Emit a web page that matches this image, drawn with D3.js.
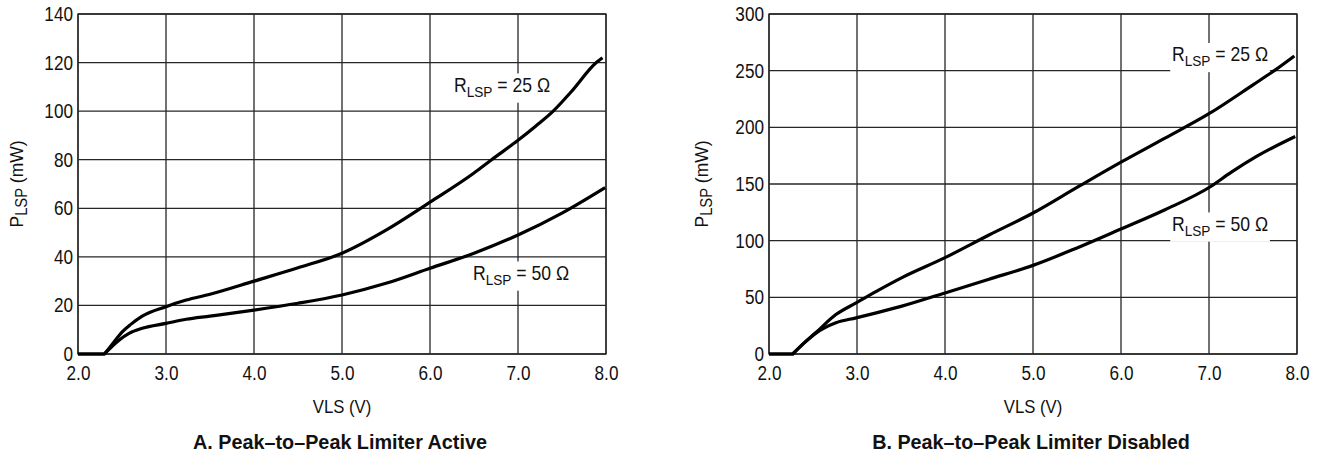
<!DOCTYPE html>
<html>
<head>
<meta charset="utf-8">
<script src="https://cdn.jsdelivr.net/npm/d3@7"></script>
<style>
  html, body { margin: 0; padding: 0; background: #fff; }
  svg { display: block; }
  .tick-label { font-family: "Liberation Sans", Arial, sans-serif; font-size: 19.5px; fill: #111; }
  .axis-title { font-family: "Liberation Sans", Arial, sans-serif; font-size: 19px; fill: #111; }
  .panel-title { font-family: "Liberation Sans", Arial, sans-serif; font-size: 19.8px; font-weight: bold; fill: #111; }
</style>
</head>
<body>
<svg id="chart" width="1322" height="454"></svg>
<script>
// ---------- data ----------
const xTicks = [2.0, 3.0, 4.0, 5.0, 6.0, 7.0, 8.0];
const xTickLabels = ["2.0", "3.0", "4.0", "5.0", "6.0", "7.0", "8.0"];

const leftYTicks = [0, 20, 40, 60, 80, 100, 120, 140];
const rightYTicks = [0, 50, 100, 150, 200, 250, 300];

// Panel A: Peak-to-Peak Limiter Active
const leftR25V = [2.0, 2.3, 2.4, 2.5, 2.6, 2.73, 3.0, 3.23, 3.5, 4.0, 4.5, 5.0, 5.5, 6.0, 6.5, 6.7, 7.0, 7.2, 7.4, 7.6, 7.89, 7.96];
const leftR25P = [0, 0, 4.5, 9.0, 12.2, 15.6, 19.5, 22.2, 24.6, 30.0, 35.5, 41.5, 51, 62.5, 74.5, 80, 88, 93.8, 100, 107.8, 120, 122];
const leftR50V = [2.0, 2.3, 2.47, 2.58, 2.73, 3.0, 3.23, 3.5, 4.0, 4.5, 5.0, 5.5, 6.0, 6.5, 7.0, 7.5, 7.99];
const leftR50P = [0, 0, 5.8, 8.5, 10.6, 12.6, 14.3, 15.6, 18.1, 20.9, 24.3, 29.1, 35.3, 41.5, 49, 58, 68.5];

// Panel B: Peak-to-Peak Limiter Disabled
const rightR25V = [2.0, 2.27, 2.4, 2.53, 2.76, 2.99, 3.22, 3.5, 4.0, 4.5, 5.0, 5.5, 6.0, 6.5, 7.0, 7.5, 7.75, 7.97];
const rightR25P = [0, 0, 9.8, 18.7, 34.8, 45.1, 55.3, 67, 85, 105, 124.4, 147, 169.3, 190.5, 212, 237.5, 250.5, 263];
const rightR50V = [2.0, 2.27, 2.4, 2.53, 2.76, 2.99, 3.22, 3.5, 4.0, 4.5, 5.0, 5.5, 6.0, 6.5, 7.02, 7.25, 7.54, 7.98];
const rightR50P = [0, 0, 9.8, 18.2, 27.5, 31.9, 36.3, 42, 53.9, 66, 78.2, 93.6, 110.3, 127.3, 147.8, 160.2, 174.3, 191.9];

const seriesNames = ["25", "50"];

// ---------- drawing ----------
const svg = d3.select("#chart");
const SX = 0.88; // horizontal squeeze to mimic the narrow sans of the original

function zip(xs, ys) { return xs.map((x, i) => ({ x: x, y: ys[i] })); }

function drawPanel(cfg) {
  const x = d3.scaleLinear().domain([2, 8]).range([cfg.left, cfg.right]);
  const y = d3.scaleLinear().domain([0, cfg.yMax]).range([cfg.bottom, cfg.top]);
  const g = svg.append("g");

  // grid
  g.append("g").selectAll("line").data(xTicks).join("line")
    .attr("x1", d => x(d)).attr("x2", d => x(d))
    .attr("y1", cfg.top).attr("y2", cfg.bottom)
    .attr("stroke", "#262626").attr("stroke-width", 1.3);
  g.append("g").selectAll("line").data(cfg.yTicks).join("line")
    .attr("x1", cfg.left).attr("x2", cfg.right)
    .attr("y1", d => y(d)).attr("y2", d => y(d))
    .attr("stroke", "#262626").attr("stroke-width", 1.3);
  g.append("rect")
    .attr("x", cfg.left).attr("y", cfg.top)
    .attr("width", cfg.right - cfg.left).attr("height", cfg.bottom - cfg.top)
    .attr("fill", "none").attr("stroke", "#262626").attr("stroke-width", 1.3);

  // axis tick labels via d3 axes (no tick lines)
  const yAxis = d3.axisLeft(y).tickValues(cfg.yTicks).tickSize(0).tickPadding(0).tickFormat(d3.format("d"));
  const ya = g.append("g").attr("transform", `translate(${cfg.left - cfg.yPad},0)`).call(yAxis);
  ya.select(".domain").remove();
  ya.selectAll("text").attr("class", "tick-label").attr("font-family", null).attr("font-size", null)
    .attr("x", 0).attr("dy", "0.33em").attr("transform", `scale(${SX},1)`);

  const xAxis = d3.axisBottom(x).tickValues(xTicks).tickSize(0).tickPadding(12.5)
    .tickFormat((d, i) => xTickLabels[i]);
  const xa = g.append("g").attr("transform", `translate(0,${cfg.bottom})`).call(xAxis);
  xa.select(".domain").remove();
  xa.selectAll("text").attr("class", "tick-label").attr("font-family", null).attr("font-size", null)
    .attr("transform", `scale(${SX},1)`);

  // annotation labels with white background
  cfg.labels.forEach(lb => {
    const lg = g.append("g").attr("transform", `translate(${lb.x},${lb.y}) scale(${SX},1)`);
    const t = lg.append("text")
      .attr("x", 0).attr("y", 0)
      .attr("font-family", '"Liberation Sans", Arial, sans-serif').attr("font-size", 20).attr("fill", "#111");
    t.append("tspan").text("R");
    t.append("tspan").text("LSP").attr("font-size", 15.5).attr("dy", 5);
    t.append("tspan").text(" = " + lb.r + " \u03A9").attr("dy", -5);
    const bb = t.node().getBBox();
    lg.insert("rect", () => t.node())
      .attr("x", bb.x - 2).attr("y", bb.y).attr("width", bb.width + 4).attr("height", bb.height + 3)
      .attr("fill", "#fff");
  });

  // curves: flat zero segment joined at a sharp corner to a smooth rising curve
  const flat = d3.line().x(d => x(d.x)).y(d => y(d.y));
  const smooth = d3.line().x(d => x(d.x)).y(d => y(d.y)).curve(d3.curveMonotoneX);
  cfg.series.forEach(s => {
    const path = flat(s.slice(0, 2)) + smooth(s.slice(1)).replace(/^M[^LC]*/, "");
    g.append("path")
      .attr("d", path)
      .attr("fill", "none").attr("stroke", "#000").attr("stroke-width", 3.2)
      .attr("stroke-linejoin", "round").attr("stroke-linecap", "butt");
  });

  // y axis title
  const yt = g.append("text")
    .attr("transform", `translate(${cfg.yTitleX},${(cfg.top + cfg.bottom) / 2}) rotate(-90) scale(0.92,1)`)
    .attr("text-anchor", "middle").attr("class", "axis-title").attr("font-size", 20);
  yt.append("tspan").text("P");
  yt.append("tspan").text("LSP").attr("font-size", 16).attr("dy", 4);
  yt.append("tspan").text(" (mW)").attr("dy", -4);

  // x axis title
  g.append("text")
    .attr("transform", `translate(${(cfg.left + cfg.right) / 2},413) scale(${SX},1)`)
    .attr("text-anchor", "middle").attr("class", "axis-title").text("VLS (V)");

  // panel title
  g.append("text")
    .attr("x", (cfg.left + cfg.right) / 2 - 2).attr("y", 449)
    .attr("text-anchor", "middle").attr("class", "panel-title").text(cfg.title);
}

drawPanel({
  left: 78, right: 606, top: 14, bottom: 354, yMax: 140, yTicks: leftYTicks,
  yPad: 5, yTitleX: 23,
  title: "A. Peak\u2013to\u2013Peak Limiter Active",
  series: [zip(leftR25V, leftR25P), zip(leftR50V, leftR50P)],
  labels: [{ r: seriesNames[0], x: 454, y: 91.5 }, { r: seriesNames[1], x: 473, y: 279.5 }]
});

drawPanel({
  left: 769, right: 1297, top: 14, bottom: 354, yMax: 300, yTicks: rightYTicks,
  yPad: 5, yTitleX: 708,
  title: "B. Peak\u2013to\u2013Peak Limiter Disabled",
  series: [zip(rightR25V, rightR25P), zip(rightR50V, rightR50P)],
  labels: [{ r: seriesNames[0], x: 1172, y: 61 }, { r: seriesNames[1], x: 1172, y: 230.5 }]
});
</script>
</body>
</html>
